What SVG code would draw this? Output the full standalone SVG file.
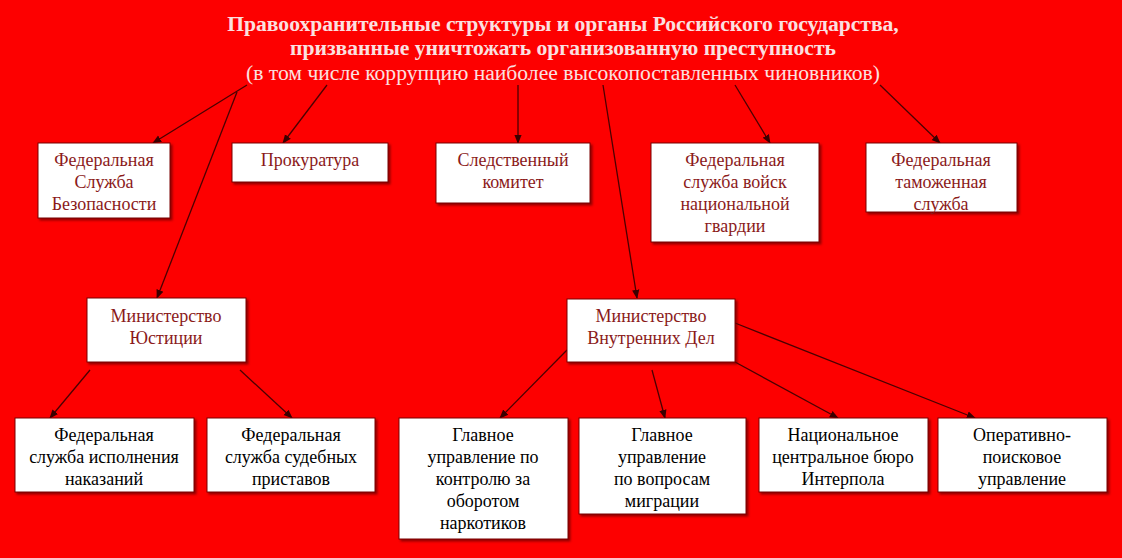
<svg xmlns="http://www.w3.org/2000/svg" width="1122" height="558" viewBox="0 0 1122 558" font-family="'Liberation Serif', 'Times New Roman', 'DejaVu Serif', serif">
<defs>
<marker id="ar" viewBox="0 0 10 10" refX="9" refY="5" markerWidth="7" markerHeight="7" orient="auto"><path d="M0,1 L10,5 L0,9 z" fill="#3a0000"/></marker>
<filter id="sh" x="-10%" y="-10%" width="130%" height="130%"><feDropShadow dx="2" dy="2" stdDeviation="1" flood-color="#600" flood-opacity="0.7"/></filter>
</defs>
<style>
text{font-family:'Liberation Serif','Times New Roman',serif;font-size:18px;text-anchor:middle}
.box{fill:#fff;stroke:#7a0000;stroke-width:1;filter:url(#sh)}
.t1{fill:#8b1a1a}
.t2{fill:#000}
.ttl{fill:#fbe0e0;font-weight:bold;font-size:21.6px}
.sub{fill:#fbe0e0;font-size:21.6px}
#edges line{stroke:#4a0000;stroke-width:1.3;marker-end:url(#ar)}
</style>
<rect width="1122" height="558" fill="#fd0000"/>
<g id="title">
<text class="ttl" x="563" y="31">Правоохранительные структуры и органы Российского государства,</text>
<text class="ttl" x="563" y="55">призванные уничтожать организованную преступность</text>
<text class="sub" x="563" y="80">(в том числе коррупцию наиболее высокопоставленных чиновников)</text>
</g>
<g id="edges">
<line x1="247" y1="85" x2="153" y2="143"/>
<line x1="327" y1="85" x2="283" y2="143"/>
<line x1="518" y1="85" x2="518" y2="143"/>
<line x1="735" y1="85" x2="770" y2="143"/>
<line x1="880" y1="85" x2="940" y2="143"/>
<line x1="237" y1="92" x2="157" y2="298"/>
<line x1="603" y1="85" x2="637" y2="298"/>
<line x1="90" y1="370" x2="50" y2="418"/>
<line x1="240" y1="370" x2="292" y2="418"/>
<line x1="567" y1="350" x2="500" y2="418"/>
<line x1="652" y1="370" x2="665" y2="418"/>
<line x1="735" y1="362" x2="838" y2="418"/>
<line x1="735" y1="323" x2="975" y2="418"/>
</g>
<g id="fsb"><rect class="box" x="38" y="143" width="132" height="75"/><text class="t1" x="104" y="166">Федеральная</text><text class="t1" x="104" y="188">Служба</text><text class="t1" x="104" y="210">Безопасности</text></g>
<g id="prok"><rect class="box" x="232" y="143" width="156" height="39"/><text class="t1" x="310" y="166">Прокуратура</text></g>
<g id="sk"><rect class="box" x="436" y="143" width="154" height="60"/><text class="t1" x="513" y="166">Следственный</text><text class="t1" x="513" y="188">комитет</text></g>
<g id="rg"><rect class="box" x="651" y="143" width="168" height="99"/><text class="t1" x="735" y="166">Федеральная</text><text class="t1" x="735" y="188">служба войск</text><text class="t1" x="735" y="210">национальной</text><text class="t1" x="735" y="232">гвардии</text></g>
<g id="fts"><rect class="box" x="866" y="143" width="151" height="69"/><text class="t1" x="941" y="166">Федеральная</text><text class="t1" x="941" y="188">таможенная</text><text class="t1" x="941" y="210">служба</text></g>
<g id="minjust"><rect class="box" x="87" y="298" width="159" height="64"/><text class="t1" x="166" y="322">Министерство</text><text class="t1" x="166" y="344">Юстиции</text></g>
<g id="mvd"><rect class="box" x="567" y="299" width="168" height="63"/><text class="t1" x="651" y="322">Министерство</text><text class="t1" x="651" y="344">Внутренних Дел</text></g>
<g id="fsin"><rect class="box" x="15" y="418" width="179" height="74"/><text class="t2" x="104" y="441">Федеральная</text><text class="t2" x="104" y="463">служба исполнения</text><text class="t2" x="104" y="485">наказаний</text></g>
<g id="fssp"><rect class="box" x="207" y="418" width="168" height="74"/><text class="t2" x="291" y="441">Федеральная</text><text class="t2" x="291" y="463">служба судебных</text><text class="t2" x="291" y="485">приставов</text></g>
<g id="gunk"><rect class="box" x="399" y="418" width="169" height="121"/><text class="t2" x="483" y="441">Главное</text><text class="t2" x="483" y="463">управление по</text><text class="t2" x="483" y="485">контролю за</text><text class="t2" x="483" y="507">оборотом</text><text class="t2" x="483" y="529">наркотиков</text></g>
<g id="guvm"><rect class="box" x="579" y="418" width="167" height="96"/><text class="t2" x="662" y="441">Главное</text><text class="t2" x="662" y="463">управление</text><text class="t2" x="662" y="485">по вопросам</text><text class="t2" x="662" y="507">миграции</text></g>
<g id="ncb"><rect class="box" x="759" y="418" width="169" height="74"/><text class="t2" x="843" y="441">Национальное</text><text class="t2" x="843" y="463">центральное бюро</text><text class="t2" x="843" y="485">Интерпола</text></g>
<g id="opu"><rect class="box" x="938" y="418" width="169" height="74"/><text class="t2" x="1022" y="441">Оперативно-</text><text class="t2" x="1022" y="463">поисковое</text><text class="t2" x="1022" y="485">управление</text></g>
</svg>
